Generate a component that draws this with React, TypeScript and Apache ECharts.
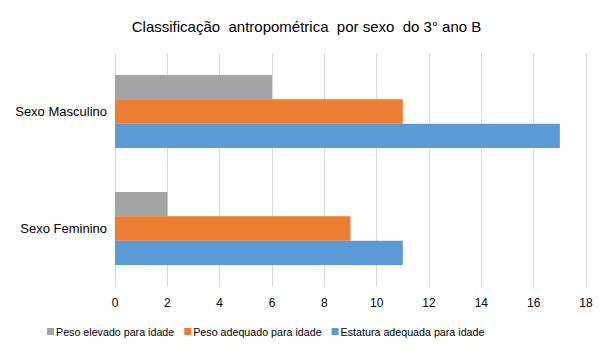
import React, { useEffect, useRef } from "react";
import * as echarts from "echarts";

const categories = ["Sexo Feminino", "Sexo Masculino"];
const seriesNames = ["Peso elevado para idade", "Peso adequado para idade", "Estatura adequada para idade"];
const pesoElevado = [2, 6];
const pesoAdequado = [9, 11];
const estaturaAdequada = [11, 17];
const colors = ["#a5a5a5", "#ed7d31", "#5b9bd5"];

export default function App() {
  const ref = useRef<HTMLDivElement>(null);
  useEffect(() => {
    const chart = echarts.init(ref.current!, undefined, { renderer: "svg" });
    const font = "Liberation Sans, Arial, sans-serif";
    const values = [pesoElevado, pesoAdequado, estaturaAdequada];
    chart.setOption({
      animation: false,
      textStyle: { fontFamily: font },
      graphic: [
        { type: "line", silent: true, z: 100, shape: { x1: 4.5, y1: 0, x2: 4.5, y2: 354 }, style: { stroke: "#bfbfbf", lineWidth: 1.2 } },
        { type: "line", silent: true, z: 100, shape: { x1: 606.5, y1: 0, x2: 606.5, y2: 354 }, style: { stroke: "#bfbfbf", lineWidth: 1.2 } },
        { type: "line", silent: true, z: 100, shape: { x1: 4.5, y1: 354.5, x2: 606.5, y2: 354.5 }, style: { stroke: "#bfbfbf", lineWidth: 1.2 } },
      ],
      title: {
        text: "Classificação  antropométrica  por sexo  do 3° ano B",
        left: "center",
        top: 14,
        textStyle: { fontSize: 15, fontWeight: "normal", color: "#000", fontFamily: font },
      },
      legend: {
        bottom: 16,
        left: 42,
        itemWidth: 7,
        itemHeight: 7,
        itemGap: 10,
        icon: "rect",
        textStyle: { fontSize: 10.7, color: "#000", fontFamily: font, padding: [0, 0, 0, -3] },
        data: seriesNames,
      },
      grid: { left: 115, right: 27, top: 53, bottom: 71 },
      xAxis: {
        type: "value",
        min: 0,
        max: 18,
        interval: 2,
        axisLine: { show: false },
        axisTick: { show: false },
        splitLine: { lineStyle: { color: "#d9d9d9" } },
        axisLabel: { fontSize: 12, color: "#000", margin: 10 },
      },
      yAxis: {
        type: "category",
        data: categories,
        axisLine: { show: false },
        axisTick: { show: false },
        axisLabel: { fontSize: 13, color: "#000", margin: 8 },
      },
      series: seriesNames.map((n, i) => ({
        name: n,
        type: "bar",
        data: values[i],
        itemStyle: { color: colors[i] },
        barGap: "0%",
        barCategoryGap: "37.5%",
      })),
    });
    return () => chart.dispose();
  }, []);
  return <div ref={ref} style={{ width: 613, height: 358, margin: -8 }} />;
}
